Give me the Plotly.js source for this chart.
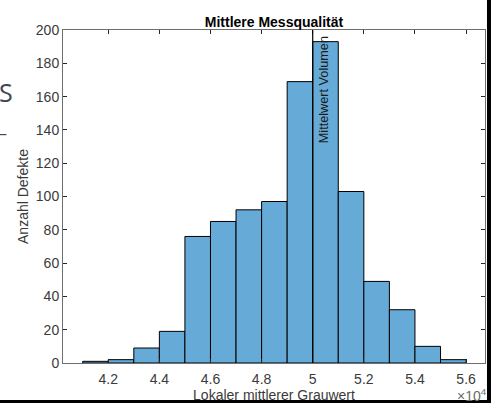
<!DOCTYPE html>
<html>
<head>
<meta charset="utf-8">
<script src="https://cdn.plot.ly/plotly-3.0.1.min.js"></script>
<style>
  html, body { margin: 0; padding: 0; background: #fff; }
  #chart { width: 495px; height: 403px; }
</style>
</head>
<body>
<div id="chart"></div>
<script>
// Histogram bins (left edge of each bin, bin width 1000)
const binStarts = [41000, 42000, 43000, 44000, 45000, 46000, 47000, 48000,
                   49000, 50000, 51000, 52000, 53000, 54000, 55000];
const counts = [1, 2, 9, 19, 76, 85, 92, 97, 169, 193, 103, 49, 32, 10, 2];
const binWidth = 1000;

// Reference line for the mean volume
const meanValue = 50000;
const meanLabel = 'Mittelwert Volumen';

// Axis ticks
const xTickVals = [42000, 44000, 46000, 48000, 50000, 52000, 54000, 56000];
const xTickText = ['4.2', '4.4', '4.6', '4.8', '5', '5.2', '5.4', '5.6'];
const yTickVals = [0, 20, 40, 60, 80, 100, 120, 140, 160, 180, 200];

const axisColor = '#262626';
const labelColor = '#3a3a3a';
const fontFamily = 'Liberation Sans, Arial, Helvetica, sans-serif';

const trace = {
  type: 'bar',
  x: binStarts,
  y: counts,
  width: binWidth,
  offset: 0,
  marker: {
    color: 'rgb(102,170,215)',
    line: { color: '#000000', width: 1 }
  },
  hoverinfo: 'x+y'
};

const layout = {
  width: 495,
  height: 403,
  margin: { l: 63, r: 10, t: 30, b: 40 },
  paper_bgcolor: '#ffffff',
  plot_bgcolor: '#ffffff',
  showlegend: false,
  bargap: 0,
  font: { family: fontFamily, size: 14, color: axisColor },
  title: {
    text: '<b>Mittlere Messqualität</b>',
    font: { family: fontFamily, size: 14, color: '#000000' },
    x: 0.5, xref: 'paper', xanchor: 'center',
    y: 1, yref: 'paper', yanchor: 'bottom', pad: { b: 3 }
  },
  xaxis: {
    range: [40230, 56740],
    tickvals: xTickVals,
    ticktext: xTickText,
    ticks: 'inside',
    ticklen: 4,
    tickcolor: axisColor,
    showline: true,
    linecolor: '#6e6e6e',
    linewidth: 1,
    mirror: 'allticks',
    showgrid: false,
    zeroline: false,
    ticklabelstandoff: 3,
    tickfont: { family: fontFamily, size: 14, color: labelColor },
    title: {
      text: 'Lokaler mittlerer Grauwert',
      font: { family: fontFamily, size: 14, color: labelColor },
      standoff: 6
    }
  },
  yaxis: {
    range: [0, 200],
    tickvals: yTickVals,
    ticks: 'inside',
    ticklen: 4,
    tickcolor: axisColor,
    showline: true,
    linecolor: '#6e6e6e',
    linewidth: 1,
    mirror: 'allticks',
    showgrid: false,
    zeroline: false,
    tickfont: { family: fontFamily, size: 14, color: labelColor },
    title: {
      text: 'Anzahl Defekte',
      font: { family: fontFamily, size: 14, color: labelColor },
      standoff: 3
    }
  },
  shapes: [
    {
      type: 'line', xref: 'x', yref: 'paper',
      x0: meanValue, x1: meanValue, y0: 0, y1: 1,
      line: { color: '#000000', width: 1.2 }
    },
    // window frame edges around the figure
    {
      type: 'rect', xref: 'paper', yref: 'paper',
      x0: 1.0047, x1: 1.0142, y0: -0.13, y1: 1.1,
      fillcolor: '#000000', line: { width: 0 }, layer: 'above'
    },
    {
      type: 'rect', xref: 'paper', yref: 'paper',
      x0: -0.16, x1: 1.0142, y0: -0.125, y1: -0.111,
      fillcolor: '#000000', line: { width: 0 }, layer: 'above'
    }
  ],
  annotations: [
    {
      text: meanLabel,
      x: meanValue, xref: 'x',
      y: 1, yref: 'paper',
      xanchor: 'left', yanchor: 'top',
      textangle: -90,
      showarrow: false,
      xshift: 2, yshift: -4,
      font: { family: fontFamily, size: 12.7, color: '#1a1a1a' }
    },
    {
      text: '×10<sup>4</sup>',
      x: 1, xref: 'paper', y: -0.096, yref: 'paper',
      xanchor: 'right', yanchor: 'middle',
      xshift: 4,
      showarrow: false,
      font: { family: fontFamily, size: 14, color: '#6a6a6a' }
    },
    {
      text: 'S',
      x: -0.157, xref: 'paper', y: 0.815, yref: 'paper',
      xanchor: 'left', yanchor: 'middle',
      showarrow: false,
      font: { family: 'Open Sans, sans-serif', size: 25, color: '#3c4858' }
    },
    {
      text: '–',
      x: -0.157, xref: 'paper', y: 0.69, yref: 'paper',
      xanchor: 'left', yanchor: 'middle',
      showarrow: false,
      font: { family: 'Open Sans, sans-serif', size: 16, color: '#3c4858' }
    }
  ]
};

Plotly.newPlot('chart', [trace], layout, { displayModeBar: false, staticPlot: true });
</script>
</body>
</html>
